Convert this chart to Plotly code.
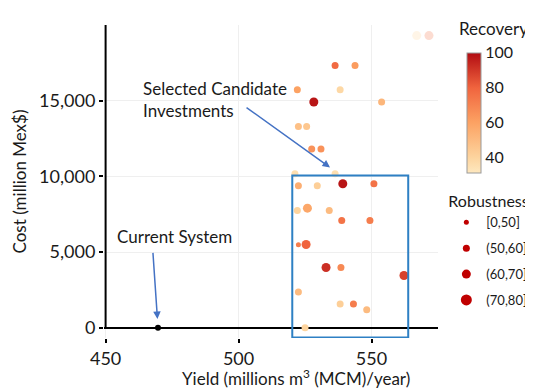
import plotly.graph_objects as go

# ---- data ----
yield_mcm = [567.0, 571.6, 536.3, 543.8, 522.1, 538.2, 528.3, 553.8, 522.5, 525.6,
             527.5, 531.0, 521.2, 536.3, 522.5, 529.6, 539.2, 550.9, 522.1, 525.9,
             534.1, 538.8, 549.4, 522.5, 525.4, 532.9, 538.5, 562.2, 522.5, 538.2,
             543.2, 548.2, 525.0]
cost = [19300, 19300, 17330, 17330, 15720, 15720, 14910, 14910, 13300, 13300,
        11800, 11800, 10170, 10170, 9380, 9380, 9510, 9510, 7750, 7900,
        7750, 7090, 7090, 5480, 5500, 3980, 3980, 3450, 2360, 1570,
        1570, 1190, 0]
recovery = [35, 75, 78, 62, 60, 38, 98, 52, 48, 45,
            65, 65, 35, 35, 55, 42, 98, 75, 40, 58,
            50, 75, 72, 72, 80, 92, 68, 88, 50, 42,
            72, 50, 40]
robustness = [65, 65, 55, 55, 55, 55, 65, 55, 55, 55,
              55, 55, 55, 55, 55, 55, 65, 55, 55, 65,
              55, 55, 55, 45, 65, 65, 55, 65, 55, 55,
              55, 55, 55]
point_opacity = [0.3, 0.25] + [1.0] * 31

current_yield = [469.7]
current_cost = [0]

rob_labels = ["[0,50]", "(50,60]", "(60,70]", "(70,80]"]
rob_upper = [50, 60, 70, 80]
rob_sizes = [5, 7, 9, 11]

selection_box = dict(x0=520.2, x1=563.8, y0=-640, y1=10060)

x_ticks = [450, 500, 550]
y_ticks = [0, 5000, 10000, 15000]
y_ticklabels = ["0", "5,000", "10,000", "15,000"]
cbar_ticks = [40, 60, 80, 100]


def size_for(r):
    for up, s in zip(rob_upper, rob_sizes):
        if r <= up:
            return s
    return rob_sizes[-1]


colorscale = [[0.0, "#fee8bf"], [0.13, "#fdd49e"], [0.42, "#fca263"],
              [0.71, "#f0643e"], [1.0, "#b20c12"]]

FONT = "Lato, Carlito, Calibri, sans-serif"
TXT = "#1a1a1a"

fig = go.Figure()

fig.add_trace(go.Scatter(
    x=yield_mcm, y=cost, mode="markers", showlegend=False,
    marker=dict(color=recovery, coloraxis="coloraxis",
                size=[size_for(r) for r in robustness],
                opacity=point_opacity, line=dict(width=0)),
))

fig.add_trace(go.Scatter(
    x=current_yield, y=current_cost, mode="markers", showlegend=False,
    marker=dict(color="black", size=6),
))

for lab, s in zip(rob_labels, rob_sizes):
    fig.add_trace(go.Scatter(
        x=[None], y=[None], mode="markers", name=lab, legendgroup=lab,
        marker=dict(color="#c00000", size=s),
    ))

fig.add_shape(type="rect", xref="x", yref="y", **selection_box,
              line=dict(color="#2e80c4", width=2), fillcolor="rgba(0,0,0,0)")
fig.add_shape(type="line", xref="x", yref="y", x0=450, x1=450, y0=0, y1=20000,
              line=dict(color="black", width=2))

fig.add_annotation(x=463.2, y=15072, xref="x", yref="y", xanchor="left", yanchor="middle",
                   text="Selected Candidate<br>Investments", showarrow=False, align="left",
                   font=dict(family=FONT, size=17, color=TXT))
fig.add_annotation(x=534.4, y=10588, xref="x", yref="y", text="", showarrow=True,
                   ax=-85, ay=-61, arrowhead=2, arrowsize=1, arrowwidth=1.5,
                   arrowcolor="#4472c4")
fig.add_annotation(x=453.6, y=6030, xref="x", yref="y", xanchor="left", yanchor="middle",
                   text="Current System", showarrow=False,
                   font=dict(family=FONT, size=17, color=TXT))
fig.add_annotation(x=469.5, y=575, xref="x", yref="y", text="", showarrow=True,
                   ax=-4.6, ay=-67.6, arrowhead=2, arrowsize=1, arrowwidth=1.5,
                   arrowcolor="#4472c4")
# x-axis title (offset to the right as in the reference)
fig.add_annotation(x=(296 - 104) / 334, y=-0.127, xref="paper", yref="paper",
                   xanchor="center", yanchor="middle", showarrow=False,
                   text="Yield (millions m<sup>3</sup> (MCM)/year)",
                   font=dict(family=FONT, size=17, color=TXT))
# colorbar title
fig.add_annotation(x=(457 - 104) / 334, y=0.99, xref="paper", yref="paper",
                   xanchor="left", yanchor="middle", showarrow=False,
                   text="Recovery", font=dict(family=FONT, size=17, color=TXT))

fig.update_layout(
    width=533, height=390,
    margin=dict(l=96, r=103, t=17, b=60, autoexpand=False),
    paper_bgcolor="white", plot_bgcolor="white",
    font=dict(family=FONT, size=17, color=TXT),
    xaxis=dict(range=[449.4, 575], tickvals=x_ticks, showgrid=True, gridcolor="#efefef",
               gridwidth=1, zeroline=False, showline=False, ticks="outside", ticklen=4,
               tickcolor="black", tickwidth=1.5, automargin=False,
               tickfont=dict(size=18)),
    yaxis=dict(range=[-680, 20000], tickvals=y_ticks, ticktext=y_ticklabels,
               showgrid=True, gridcolor="#efefef", gridwidth=1,
               zeroline=True, zerolinecolor="black", zerolinewidth=2,
               showline=False, ticks="outside", ticklen=4, tickcolor="black", tickwidth=1.5,
               automargin=False, tickfont=dict(size=18),
               title=dict(text="Cost (million Mex$)", font=dict(size=17), standoff=8)),
    coloraxis=dict(
        colorscale=colorscale, cmin=31, cmax=100,
        colorbar=dict(
            x=(467 - 104) / 334, xanchor="left", xpad=0, y=0.72, yanchor="middle",
            len=0.383, lenmode="fraction", ypad=0, thickness=14,
            outlinecolor="#9a9a9a", outlinewidth=1,
            tickvals=cbar_ticks, ticks="", ticklabelposition="outside",
            tickfont=dict(size=16),
        ),
    ),
    legend=dict(
        title=dict(text="Robustness", font=dict(size=16)),
        x=1.025, xanchor="left", y=0.484, yanchor="top",
        font=dict(size=13), itemwidth=30, tracegroupgap=6, traceorder="grouped",
        bgcolor="rgba(0,0,0,0)",
    ),
)

fig.write_html("out.html")
